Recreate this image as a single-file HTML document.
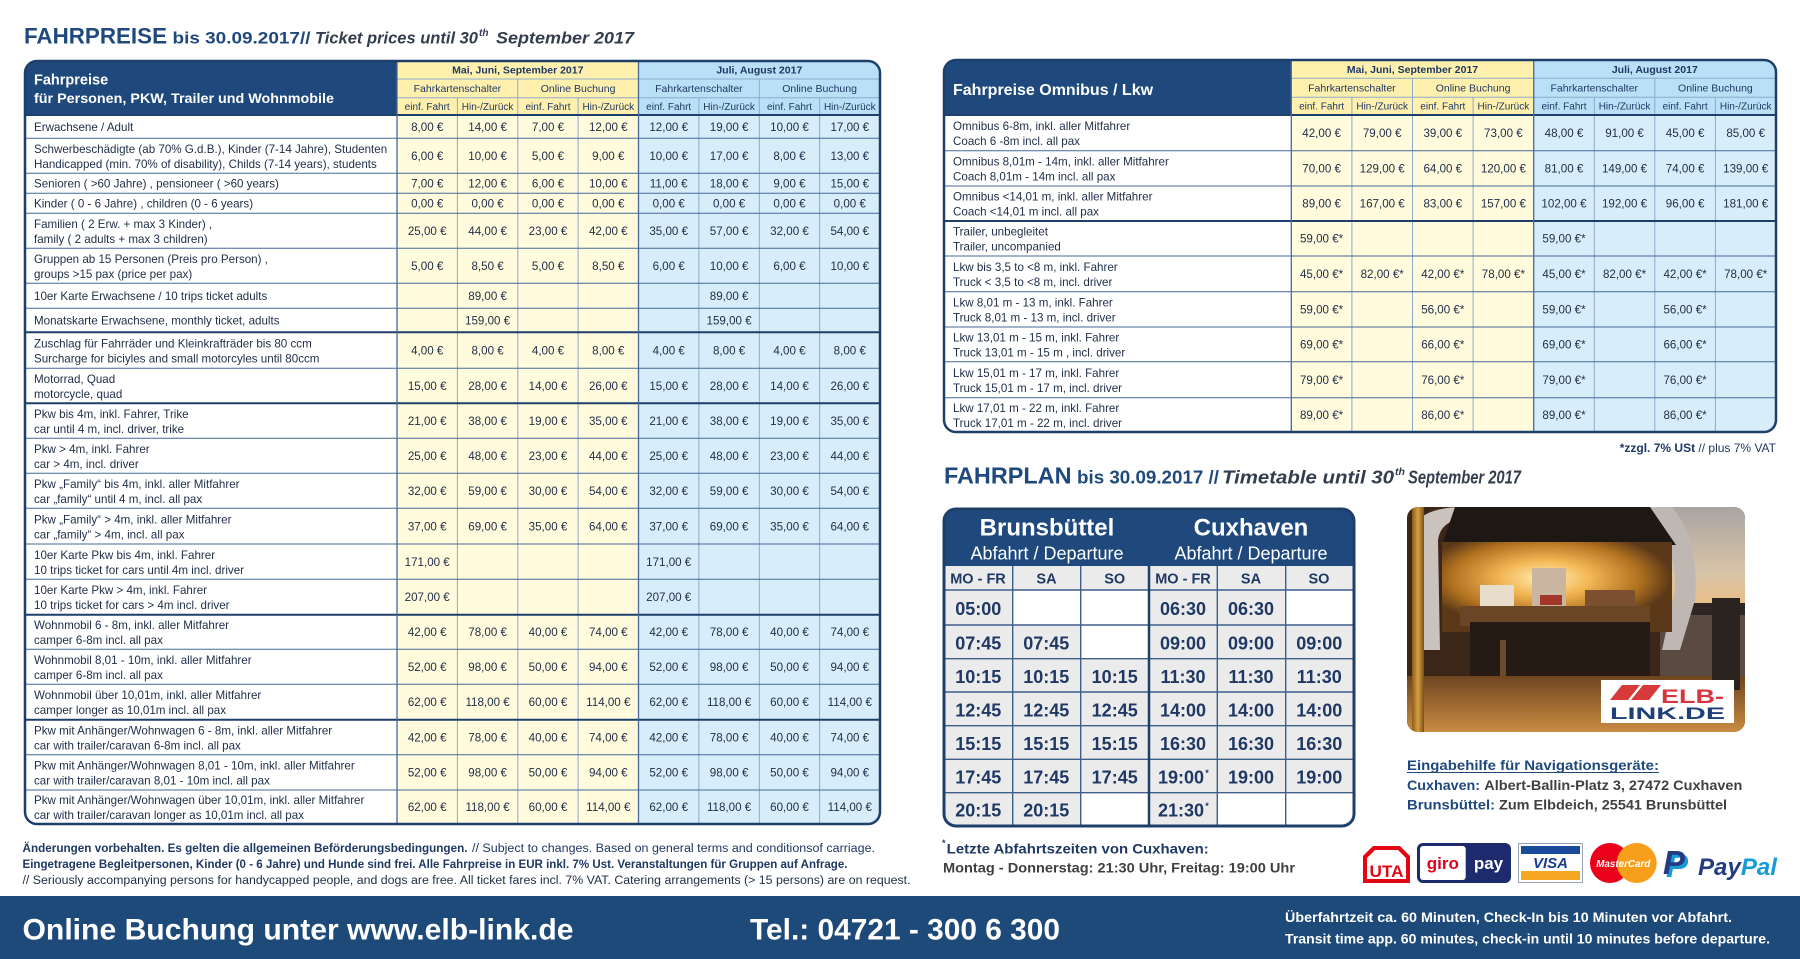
<!DOCTYPE html>
<html><head><meta charset="utf-8"><style>
html,body{margin:0;padding:0;background:#fff;width:1800px;height:959px;overflow:hidden}
svg{display:block;font-family:"Liberation Sans",Arial,sans-serif}
</style></head><body>
<svg width="1800" height="959" viewBox="0 0 1800 959" xmlns="http://www.w3.org/2000/svg">
<defs>
<clipPath id="cL"><rect x="25" y="61" width="855" height="763" rx="12"/></clipPath>
<clipPath id="cR"><rect x="944" y="60" width="832" height="372" rx="12"/></clipPath>
<clipPath id="cT"><rect x="944" y="509" width="410" height="317" rx="12"/></clipPath>
<clipPath id="cph"><rect x="1407" y="507" width="338" height="225" rx="11"/></clipPath>
<linearGradient id="sky" x1="0" y1="0" x2="0" y2="1"><stop offset="0" stop-color="#a9a4a2"/><stop offset="0.6" stop-color="#d9c4a8"/><stop offset="1" stop-color="#eebc7a"/></linearGradient>
<radialGradient id="glow" cx="0.45" cy="0.4" r="0.55"><stop offset="0" stop-color="#fff0b8"/><stop offset="0.35" stop-color="#f3b755"/><stop offset="0.75" stop-color="#b0701f"/><stop offset="1" stop-color="#5a3818"/></radialGradient>
<linearGradient id="dock" x1="0" y1="0" x2="0" y2="1"><stop offset="0" stop-color="#6e4520"/><stop offset="1" stop-color="#c98c42"/></linearGradient>
<linearGradient id="pole" x1="0" y1="0" x2="1" y2="0"><stop offset="0" stop-color="#8a5a1c"/><stop offset="0.5" stop-color="#d6a040"/><stop offset="1" stop-color="#7a4e18"/></linearGradient>
</defs>

<!-- Titles -->
<text x="24" y="43.5" font-size="22" font-weight="bold" fill="#1f497d" textLength="143" lengthAdjust="spacingAndGlyphs">FAHRPREISE</text>
<text x="172.5" y="43.5" font-size="17" font-weight="bold" fill="#1f497d" textLength="138" lengthAdjust="spacingAndGlyphs">bis 30.09.2017//</text>
<text x="315" y="43.5" font-size="17" font-weight="bold" font-style="italic" fill="#333d4d" textLength="163" lengthAdjust="spacingAndGlyphs">Ticket prices until 30</text>
<text x="479" y="36" font-size="10" font-weight="bold" font-style="italic" fill="#333d4d">th</text>
<text x="496" y="43.5" font-size="17" font-weight="bold" font-style="italic" fill="#333d4d" textLength="138" lengthAdjust="spacingAndGlyphs">September 2017</text>

<!-- LEFT TABLE -->
<rect x="25" y="61" width="855" height="763" rx="12" fill="#fff"/>
<g clip-path="url(#cL)">
<rect x="25" y="61" width="372" height="54" fill="#1f497d"/>
<rect x="397" y="61" width="241.5" height="54" fill="#fff1ad"/>
<rect x="638.5" y="61" width="241.5" height="54" fill="#b9e0f7"/>
<rect x="397" y="115" width="241.5" height="709" fill="#fffbdc"/>
<rect x="638.5" y="115" width="241.5" height="709" fill="#d8edfa"/>
</g>
<path d="M397 79H880M397 97.7H880M517.8 79V824M759.3 79V824M457.4 97.7V824M578.1 97.7V824M698.9 97.7V824M819.6 97.7V824" stroke="#8eaacb" stroke-width="1" fill="none"/>
<path d="M25 138.3H880M25 173.3H880M25 193.3H880M25 213.3H880M25 248.3H880M25 283.3H880M25 308.3H880M25 368.3H880M25 438.3H880M25 473.3H880M25 508.3H880M25 544H880M25 579.3H880M25 649.3H880M25 684.3H880M25 754.7H880M25 790H880" stroke="#46699a" stroke-width="1" fill="none"/>
<path d="M25 115H880M25 332.3H880M25 403.3H880M25 614.7H880M25 719.7H880" stroke="#1f3f6b" stroke-width="2" fill="none"/>
<path d="M397 61V824M638.5 61V824" stroke="#46699a" stroke-width="1.3" fill="none"/>
<rect x="25" y="61" width="855" height="763" rx="12" fill="none" stroke="#1f3f6b" stroke-width="2.5"/>

<text x="34" y="84.5" font-size="14.5" font-weight="bold" fill="#fff">Fahrpreise</text>
<text x="34" y="103" font-size="14" font-weight="bold" fill="#fff" textLength="300" lengthAdjust="spacingAndGlyphs">für Personen, PKW, Trailer und Wohnmobile</text>

<g fill="#1f3864" text-anchor="middle">
<text y="73.7" font-size="10.5" font-weight="bold"><tspan x="517.8">Mai, Juni, September 2017</tspan><tspan x="759.3">Juli, August 2017</tspan></text>
<text y="92" font-size="10.5"><tspan x="457.4">Fahrkartenschalter</tspan><tspan x="578.1">Online Buchung</tspan><tspan x="698.9">Fahrkartenschalter</tspan><tspan x="819.6">Online Buchung</tspan></text>
<text y="109.8" font-size="10"><tspan x="427.2">einf. Fahrt</tspan><tspan x="487.6">Hin-/Zurück</tspan><tspan x="548">einf. Fahrt</tspan><tspan x="608.3">Hin-/Zurück</tspan><tspan x="668.7">einf. Fahrt</tspan><tspan x="729.1">Hin-/Zurück</tspan><tspan x="789.5">einf. Fahrt</tspan><tspan x="849.8">Hin-/Zurück</tspan></text>
</g>

<g font-size="11.6" fill="#1f2d47">
<text x="34" y="130.8">Erwachsene / Adult</text>
<text x="34" y="152.9">Schwerbeschädigte (ab 70% G.d.B.), Kinder (7-14 Jahre), Studenten</text>
<text x="34" y="167.9">Handicapped (min. 70% of disability), Childs (7-14 years), students</text>
<text x="34" y="187.4">Senioren ( &gt;60 Jahre) , pensioneer ( &gt;60 years)</text>
<text x="34" y="207.4">Kinder ( 0 - 6 Jahre) , children (0 - 6 years)</text>
<text x="34" y="227.9">Familien ( 2 Erw. + max 3 Kinder) ,</text>
<text x="34" y="242.9">family ( 2 adults + max 3 children)</text>
<text x="34" y="262.9">Gruppen ab 15 Personen (Preis pro Person) ,</text>
<text x="34" y="277.9">groups &gt;15 pax (price per pax)</text>
<text x="34" y="299.9">10er Karte Erwachsene / 10 trips ticket adults</text>
<text x="34" y="324.4">Monatskarte Erwachsene, monthly ticket, adults</text>
<text x="34" y="347.4">Zuschlag für Fahrräder und Kleinkrafträder bis 80 ccm</text>
<text x="34" y="362.4">Surcharge for biciyles and small motorcyles until 80ccm</text>
<text x="34" y="382.9">Motorrad, Quad</text>
<text x="34" y="397.9">motorcycle, quad</text>
<text x="34" y="417.9">Pkw bis 4m, inkl. Fahrer, Trike</text>
<text x="34" y="432.9">car until 4 m, incl. driver, trike</text>
<text x="34" y="452.9">Pkw &gt; 4m, inkl. Fahrer</text>
<text x="34" y="467.9">car &gt; 4m, incl. driver</text>
<text x="34" y="487.9">Pkw „Family“ bis 4m, inkl. aller Mitfahrer</text>
<text x="34" y="502.9">car „family“ until 4 m, incl. all pax</text>
<text x="34" y="523.3">Pkw „Family“ &gt; 4m, inkl. aller Mitfahrer</text>
<text x="34" y="538.3">car „family“ &gt; 4m, incl. all pax</text>
<text x="34" y="558.8">10er Karte Pkw bis 4m, inkl. Fahrer</text>
<text x="34" y="573.8">10 trips ticket for cars until 4m incl. driver</text>
<text x="34" y="594.1">10er Karte Pkw &gt; 4m, inkl. Fahrer</text>
<text x="34" y="609.1">10 trips ticket for cars &gt; 4m incl. driver</text>
<text x="34" y="629.1">Wohnmobil 6 - 8m, inkl. aller Mitfahrer</text>
<text x="34" y="644.1">camper 6-8m incl. all pax</text>
<text x="34" y="663.9">Wohnmobil 8,01 - 10m, inkl. aller Mitfahrer</text>
<text x="34" y="678.9">camper 6-8m incl. all pax</text>
<text x="34" y="699.1">Wohnmobil über 10,01m, inkl. aller Mitfahrer</text>
<text x="34" y="714.1">camper longer as 10,01m incl. all pax</text>
<text x="34" y="734.3">Pkw mit Anhänger/Wohnwagen 6 - 8m, inkl. aller Mitfahrer</text>
<text x="34" y="749.3">car with trailer/caravan 6-8m incl. all pax</text>
<text x="34" y="769.5">Pkw mit Anhänger/Wohnwagen 8,01 - 10m, inkl. aller Mitfahrer</text>
<text x="34" y="784.5">car with trailer/caravan 8,01 - 10m incl. all pax</text>
<text x="34" y="804.1">Pkw mit Anhänger/Wohnwagen über 10,01m, inkl. aller Mitfahrer</text>
<text x="34" y="819.1">car with trailer/caravan longer as 10,01m incl. all pax</text>
</g>

<g font-size="11.6" fill="#1f2d47" text-anchor="middle">
<text y="130.8"><tspan x="427.2">8,00 €</tspan><tspan x="487.6">14,00 €</tspan><tspan x="548">7,00 €</tspan><tspan x="608.3">12,00 €</tspan><tspan x="668.7">12,00 €</tspan><tspan x="729.1">19,00 €</tspan><tspan x="789.5">10,00 €</tspan><tspan x="849.8">17,00 €</tspan></text>
<text y="159.9"><tspan x="427.2">6,00 €</tspan><tspan x="487.6">10,00 €</tspan><tspan x="548">5,00 €</tspan><tspan x="608.3">9,00 €</tspan><tspan x="668.7">10,00 €</tspan><tspan x="729.1">17,00 €</tspan><tspan x="789.5">8,00 €</tspan><tspan x="849.8">13,00 €</tspan></text>
<text y="187.4"><tspan x="427.2">7,00 €</tspan><tspan x="487.6">12,00 €</tspan><tspan x="548">6,00 €</tspan><tspan x="608.3">10,00 €</tspan><tspan x="668.7">11,00 €</tspan><tspan x="729.1">18,00 €</tspan><tspan x="789.5">9,00 €</tspan><tspan x="849.8">15,00 €</tspan></text>
<text y="207.4"><tspan x="427.2">0,00 €</tspan><tspan x="487.6">0,00 €</tspan><tspan x="548">0,00 €</tspan><tspan x="608.3">0,00 €</tspan><tspan x="668.7">0,00 €</tspan><tspan x="729.1">0,00 €</tspan><tspan x="789.5">0,00 €</tspan><tspan x="849.8">0,00 €</tspan></text>
<text y="234.9"><tspan x="427.2">25,00 €</tspan><tspan x="487.6">44,00 €</tspan><tspan x="548">23,00 €</tspan><tspan x="608.3">42,00 €</tspan><tspan x="668.7">35,00 €</tspan><tspan x="729.1">57,00 €</tspan><tspan x="789.5">32,00 €</tspan><tspan x="849.8">54,00 €</tspan></text>
<text y="269.9"><tspan x="427.2">5,00 €</tspan><tspan x="487.6">8,50 €</tspan><tspan x="548">5,00 €</tspan><tspan x="608.3">8,50 €</tspan><tspan x="668.7">6,00 €</tspan><tspan x="729.1">10,00 €</tspan><tspan x="789.5">6,00 €</tspan><tspan x="849.8">10,00 €</tspan></text>
<text y="299.9"><tspan x="487.6">89,00 €</tspan><tspan x="729.1">89,00 €</tspan></text>
<text y="324.4"><tspan x="487.6">159,00 €</tspan><tspan x="729.1">159,00 €</tspan></text>
<text y="354.4"><tspan x="427.2">4,00 €</tspan><tspan x="487.6">8,00 €</tspan><tspan x="548">4,00 €</tspan><tspan x="608.3">8,00 €</tspan><tspan x="668.7">4,00 €</tspan><tspan x="729.1">8,00 €</tspan><tspan x="789.5">4,00 €</tspan><tspan x="849.8">8,00 €</tspan></text>
<text y="389.9"><tspan x="427.2">15,00 €</tspan><tspan x="487.6">28,00 €</tspan><tspan x="548">14,00 €</tspan><tspan x="608.3">26,00 €</tspan><tspan x="668.7">15,00 €</tspan><tspan x="729.1">28,00 €</tspan><tspan x="789.5">14,00 €</tspan><tspan x="849.8">26,00 €</tspan></text>
<text y="424.9"><tspan x="427.2">21,00 €</tspan><tspan x="487.6">38,00 €</tspan><tspan x="548">19,00 €</tspan><tspan x="608.3">35,00 €</tspan><tspan x="668.7">21,00 €</tspan><tspan x="729.1">38,00 €</tspan><tspan x="789.5">19,00 €</tspan><tspan x="849.8">35,00 €</tspan></text>
<text y="459.9"><tspan x="427.2">25,00 €</tspan><tspan x="487.6">48,00 €</tspan><tspan x="548">23,00 €</tspan><tspan x="608.3">44,00 €</tspan><tspan x="668.7">25,00 €</tspan><tspan x="729.1">48,00 €</tspan><tspan x="789.5">23,00 €</tspan><tspan x="849.8">44,00 €</tspan></text>
<text y="494.9"><tspan x="427.2">32,00 €</tspan><tspan x="487.6">59,00 €</tspan><tspan x="548">30,00 €</tspan><tspan x="608.3">54,00 €</tspan><tspan x="668.7">32,00 €</tspan><tspan x="729.1">59,00 €</tspan><tspan x="789.5">30,00 €</tspan><tspan x="849.8">54,00 €</tspan></text>
<text y="530.3"><tspan x="427.2">37,00 €</tspan><tspan x="487.6">69,00 €</tspan><tspan x="548">35,00 €</tspan><tspan x="608.3">64,00 €</tspan><tspan x="668.7">37,00 €</tspan><tspan x="729.1">69,00 €</tspan><tspan x="789.5">35,00 €</tspan><tspan x="849.8">64,00 €</tspan></text>
<text y="565.8"><tspan x="427.2">171,00 €</tspan><tspan x="668.7">171,00 €</tspan></text>
<text y="601.1"><tspan x="427.2">207,00 €</tspan><tspan x="668.7">207,00 €</tspan></text>
<text y="636.1"><tspan x="427.2">42,00 €</tspan><tspan x="487.6">78,00 €</tspan><tspan x="548">40,00 €</tspan><tspan x="608.3">74,00 €</tspan><tspan x="668.7">42,00 €</tspan><tspan x="729.1">78,00 €</tspan><tspan x="789.5">40,00 €</tspan><tspan x="849.8">74,00 €</tspan></text>
<text y="670.9"><tspan x="427.2">52,00 €</tspan><tspan x="487.6">98,00 €</tspan><tspan x="548">50,00 €</tspan><tspan x="608.3">94,00 €</tspan><tspan x="668.7">52,00 €</tspan><tspan x="729.1">98,00 €</tspan><tspan x="789.5">50,00 €</tspan><tspan x="849.8">94,00 €</tspan></text>
<text y="706.1"><tspan x="427.2">62,00 €</tspan><tspan x="487.6">118,00 €</tspan><tspan x="548">60,00 €</tspan><tspan x="608.3">114,00 €</tspan><tspan x="668.7">62,00 €</tspan><tspan x="729.1">118,00 €</tspan><tspan x="789.5">60,00 €</tspan><tspan x="849.8">114,00 €</tspan></text>
<text y="741.3"><tspan x="427.2">42,00 €</tspan><tspan x="487.6">78,00 €</tspan><tspan x="548">40,00 €</tspan><tspan x="608.3">74,00 €</tspan><tspan x="668.7">42,00 €</tspan><tspan x="729.1">78,00 €</tspan><tspan x="789.5">40,00 €</tspan><tspan x="849.8">74,00 €</tspan></text>
<text y="776.5"><tspan x="427.2">52,00 €</tspan><tspan x="487.6">98,00 €</tspan><tspan x="548">50,00 €</tspan><tspan x="608.3">94,00 €</tspan><tspan x="668.7">52,00 €</tspan><tspan x="729.1">98,00 €</tspan><tspan x="789.5">50,00 €</tspan><tspan x="849.8">94,00 €</tspan></text>
<text y="811.1"><tspan x="427.2">62,00 €</tspan><tspan x="487.6">118,00 €</tspan><tspan x="548">60,00 €</tspan><tspan x="608.3">114,00 €</tspan><tspan x="668.7">62,00 €</tspan><tspan x="729.1">118,00 €</tspan><tspan x="789.5">60,00 €</tspan><tspan x="849.8">114,00 €</tspan></text>
</g>

<!-- RIGHT TABLE -->
<rect x="944" y="60" width="832" height="372" rx="12" fill="#fff"/>
<g clip-path="url(#cR)">
<rect x="944" y="60" width="347.3" height="55" fill="#1f497d"/>
<rect x="1291.3" y="60" width="242.4" height="55" fill="#fff1ad"/>
<rect x="1533.7" y="60" width="242.3" height="55" fill="#b9e0f7"/>
<rect x="1291.3" y="115" width="242.4" height="317" fill="#fffbdc"/>
<rect x="1533.7" y="115" width="242.3" height="317" fill="#d8edfa"/>
</g>
<path d="M1291.3 78.3H1776M1291.3 97.3H1776M1412.5 78.3V432M1654.8 78.3V432M1351.9 97.3V432M1473.1 97.3V432M1594.3 97.3V432M1715.4 97.3V432" stroke="#8eaacb" stroke-width="1" fill="none"/>
<path d="M944 150.7H1776M944 186H1776M944 256H1776M944 291.7H1776M944 327H1776M944 361.7H1776M944 397.7H1776" stroke="#46699a" stroke-width="1" fill="none"/>
<path d="M944 115H1776M944 221H1776" stroke="#1f3f6b" stroke-width="2" fill="none"/>
<path d="M1291.3 60V432M1533.7 60V432" stroke="#46699a" stroke-width="1.3" fill="none"/>
<rect x="944" y="60" width="832" height="372" rx="12" fill="none" stroke="#1f3f6b" stroke-width="2.5"/>

<text x="953" y="95" font-size="16" font-weight="bold" fill="#fff">Fahrpreise Omnibus / Lkw</text>
<g fill="#1f3864" text-anchor="middle">
<text y="72.9" font-size="10.5" font-weight="bold"><tspan x="1412.5">Mai, Juni, September 2017</tspan><tspan x="1654.8">Juli, August 2017</tspan></text>
<text y="91.5" font-size="10.5"><tspan x="1351.9">Fahrkartenschalter</tspan><tspan x="1473.1">Online Buchung</tspan><tspan x="1594.3">Fahrkartenschalter</tspan><tspan x="1715.4">Online Buchung</tspan></text>
<text y="109.7" font-size="10"><tspan x="1321.6">einf. Fahrt</tspan><tspan x="1382.2">Hin-/Zurück</tspan><tspan x="1442.8">einf. Fahrt</tspan><tspan x="1503.4">Hin-/Zurück</tspan><tspan x="1564">einf. Fahrt</tspan><tspan x="1624.55">Hin-/Zurück</tspan><tspan x="1685.1">einf. Fahrt</tspan><tspan x="1745.7">Hin-/Zurück</tspan></text>
</g>

<g font-size="11.6" fill="#1f2d47">
<text x="953" y="130">Omnibus 6-8m, inkl. aller Mitfahrer</text>
<text x="953" y="145">Coach 6 -8m incl. all pax</text>
<text x="953" y="165.5">Omnibus 8,01m - 14m, inkl. aller Mitfahrer</text>
<text x="953" y="180.5">Coach 8,01m - 14m incl. all pax</text>
<text x="953" y="200.6">Omnibus &lt;14,01 m, inkl. aller Mitfahrer</text>
<text x="953" y="215.6">Coach &lt;14,01 m incl. all pax</text>
<text x="953" y="235.6">Trailer, unbegleitet</text>
<text x="953" y="250.6">Trailer, uncompanied</text>
<text x="953" y="271">Lkw bis 3,5 to &lt;8 m, inkl. Fahrer</text>
<text x="953" y="286">Truck &lt; 3,5 to &lt;8 m, incl. driver</text>
<text x="953" y="306.5">Lkw  8,01 m - 13 m, inkl. Fahrer</text>
<text x="953" y="321.5">Truck 8,01 m - 13 m, incl. driver</text>
<text x="953" y="341.5">Lkw 13,01 m - 15 m, inkl. Fahrer</text>
<text x="953" y="356.5">Truck 13,01 m - 15 m , incl. driver</text>
<text x="953" y="376.8">Lkw 15,01 m - 17 m, inkl. Fahrer</text>
<text x="953" y="391.8">Truck 15,01 m - 17 m, incl. driver</text>
<text x="953" y="412">Lkw 17,01 m - 22 m, inkl. Fahrer</text>
<text x="953" y="427">Truck 17,01 m - 22 m, incl. driver</text>
</g>
<g font-size="11.6" fill="#1f2d47" text-anchor="middle">
<text y="137"><tspan x="1321.6">42,00 €</tspan><tspan x="1382.2">79,00 €</tspan><tspan x="1442.8">39,00 €</tspan><tspan x="1503.4">73,00 €</tspan><tspan x="1564">48,00 €</tspan><tspan x="1624.55">91,00 €</tspan><tspan x="1685.1">45,00 €</tspan><tspan x="1745.7">85,00 €</tspan></text>
<text y="172.5"><tspan x="1321.6">70,00 €</tspan><tspan x="1382.2">129,00 €</tspan><tspan x="1442.8">64,00 €</tspan><tspan x="1503.4">120,00 €</tspan><tspan x="1564">81,00 €</tspan><tspan x="1624.55">149,00 €</tspan><tspan x="1685.1">74,00 €</tspan><tspan x="1745.7">139,00 €</tspan></text>
<text y="207.6"><tspan x="1321.6">89,00 €</tspan><tspan x="1382.2">167,00 €</tspan><tspan x="1442.8">83,00 €</tspan><tspan x="1503.4">157,00 €</tspan><tspan x="1564">102,00 €</tspan><tspan x="1624.55">192,00 €</tspan><tspan x="1685.1">96,00 €</tspan><tspan x="1745.7">181,00 €</tspan></text>
<text y="242.6"><tspan x="1321.6">59,00 €*</tspan><tspan x="1564">59,00 €*</tspan></text>
<text y="278"><tspan x="1321.6">45,00 €*</tspan><tspan x="1382.2">82,00 €*</tspan><tspan x="1442.8">42,00 €*</tspan><tspan x="1503.4">78,00 €*</tspan><tspan x="1564">45,00 €*</tspan><tspan x="1624.55">82,00 €*</tspan><tspan x="1685.1">42,00 €*</tspan><tspan x="1745.7">78,00 €*</tspan></text>
<text y="313.5"><tspan x="1321.6">59,00 €*</tspan><tspan x="1442.8">56,00 €*</tspan><tspan x="1564">59,00 €*</tspan><tspan x="1685.1">56,00 €*</tspan></text>
<text y="348.5"><tspan x="1321.6">69,00 €*</tspan><tspan x="1442.8">66,00 €*</tspan><tspan x="1564">69,00 €*</tspan><tspan x="1685.1">66,00 €*</tspan></text>
<text y="383.8"><tspan x="1321.6">79,00 €*</tspan><tspan x="1442.8">76,00 €*</tspan><tspan x="1564">79,00 €*</tspan><tspan x="1685.1">76,00 €*</tspan></text>
<text y="419"><tspan x="1321.6">89,00 €*</tspan><tspan x="1442.8">86,00 €*</tspan><tspan x="1564">89,00 €*</tspan><tspan x="1685.1">86,00 €*</tspan></text>
</g>

<text x="1776" y="452" font-size="12" fill="#1f3864" text-anchor="end"><tspan font-weight="bold">*zzgl. 7% USt</tspan> // plus 7% VAT</text>

<!-- FAHRPLAN title -->
<text x="944" y="483.3" font-size="23" font-weight="bold" fill="#1f497d" textLength="127.5" lengthAdjust="spacingAndGlyphs">FAHRPLAN</text>
<text x="1077" y="483.3" font-size="18" font-weight="bold" fill="#1f497d" textLength="142" lengthAdjust="spacingAndGlyphs">bis 30.09.2017 //</text>
<text x="1222" y="483.3" font-size="18" font-weight="bold" font-style="italic" fill="#333d4d" textLength="172" lengthAdjust="spacingAndGlyphs">Timetable until 30</text>
<text x="1395" y="475" font-size="10.5" font-weight="bold" font-style="italic" fill="#333d4d">th</text>
<text x="1408" y="483.3" font-size="18" font-weight="bold" font-style="italic" fill="#333d4d" textLength="113" lengthAdjust="spacingAndGlyphs">September 2017</text>

<!-- TIMETABLE -->
<g clip-path="url(#cT)">
<rect x="944" y="509" width="410" height="317" fill="#ebebeb"/>
<rect x="944" y="509" width="410" height="57" fill="#1f497d"/>
<rect x="1012.7" y="590" width="68" height="35" fill="#fff"/>
<rect x="1080.7" y="590" width="68.3" height="68.7" fill="#fff"/>
<rect x="1080.7" y="792.7" width="68.3" height="34" fill="#fff"/>
<rect x="1285.7" y="590" width="68.3" height="35" fill="#fff"/>
<rect x="1217.3" y="792.7" width="136.7" height="34" fill="#fff"/>
</g>
<path d="M944 590H1354M944 625H1354M944 658.7H1354M944 692H1354M944 725.7H1354M944 759.3H1354M944 792.7H1354M1012.7 566V826M1080.7 566V826M1217.3 566V826M1285.7 566V826" stroke="#3d5f8c" stroke-width="1.4" fill="none"/>
<path d="M1149 566V826" stroke="#1f3f6b" stroke-width="2.5"/>
<rect x="944" y="509" width="410" height="317" rx="12" fill="none" stroke="#1f3f6b" stroke-width="3"/>

<g text-anchor="middle" fill="#fff">
<text x="1047" y="535.7" font-size="24" font-weight="bold">Brunsbüttel</text>
<text x="1251" y="535.7" font-size="24" font-weight="bold">Cuxhaven</text>
<text x="1047" y="559.5" font-size="18">Abfahrt / Departure</text>
<text x="1251" y="559.5" font-size="18">Abfahrt / Departure</text>
</g>
<g text-anchor="middle" fill="#1f3864" font-weight="bold">
<text y="583.3" font-size="14.5"><tspan x="978">MO - FR</tspan><tspan x="1046.5">SA</tspan><tspan x="1114.7">SO</tspan><tspan x="1183">MO - FR</tspan><tspan x="1251">SA</tspan><tspan x="1319">SO</tspan></text>
<g font-size="18">
<text y="614.9"><tspan x="978.3">05:00</tspan><tspan x="1183">06:30</tspan><tspan x="1251">06:30</tspan></text>
<text y="649.3"><tspan x="978.3">07:45</tspan><tspan x="1046.3">07:45</tspan><tspan x="1183">09:00</tspan><tspan x="1251">09:00</tspan><tspan x="1319.3">09:00</tspan></text>
<text y="682.8"><tspan x="978.3">10:15</tspan><tspan x="1046.3">10:15</tspan><tspan x="1114.7">10:15</tspan><tspan x="1183">11:30</tspan><tspan x="1251">11:30</tspan><tspan x="1319.3">11:30</tspan></text>
<text y="716.3"><tspan x="978.3">12:45</tspan><tspan x="1046.3">12:45</tspan><tspan x="1114.7">12:45</tspan><tspan x="1183">14:00</tspan><tspan x="1251">14:00</tspan><tspan x="1319.3">14:00</tspan></text>
<text y="749.9"><tspan x="978.3">15:15</tspan><tspan x="1046.3">15:15</tspan><tspan x="1114.7">15:15</tspan><tspan x="1183">16:30</tspan><tspan x="1251">16:30</tspan><tspan x="1319.3">16:30</tspan></text>
<text y="783.4"><tspan x="978.3">17:45</tspan><tspan x="1046.3">17:45</tspan><tspan x="1114.7">17:45</tspan><tspan x="1181">19:00</tspan><tspan x="1251">19:00</tspan><tspan x="1319.3">19:00</tspan></text>
<text y="816.4"><tspan x="978.3">20:15</tspan><tspan x="1046.3">20:15</tspan><tspan x="1181">21:30</tspan></text>
</g>
<text x="1207" y="776" font-size="9">*</text>
<text x="1207" y="809" font-size="9">*</text>
</g>

<text x="942" y="846" font-size="9" font-weight="bold" fill="#1f3864">*</text>
<text x="946.7" y="853.3" font-size="14" font-weight="bold" fill="#1f3864" textLength="262" lengthAdjust="spacingAndGlyphs">Letzte Abfahrtszeiten von Cuxhaven:</text>
<text x="943" y="872.7" font-size="14" font-weight="bold" fill="#404040" textLength="352" lengthAdjust="spacingAndGlyphs">Montag - Donnerstag: 21:30 Uhr, Freitag: 19:00 Uhr</text>

<!-- PHOTO -->
<g clip-path="url(#cph)">
<rect x="1407" y="507" width="338" height="225" fill="#3b2618"/>
<rect x="1660" y="507" width="85" height="110" fill="url(#sky)"/>
<rect x="1660" y="603" width="85" height="12" fill="#2e2622"/>
<rect x="1660" y="615" width="85" height="70" fill="#5a4a42"/>
<path d="M1418 520 Q1430 508 1460 507 L1455 520 Q1440 525 1438 540 L1440 650 L1422 650 Z" fill="#c9c2bd"/>
<path d="M1640 507 L1672 507 Q1700 540 1695 600 L1680 650 L1662 650 L1675 590 Q1678 540 1640 515 Z" fill="#bfb7b1"/>
<path d="M1455 507 L1650 507 L1676 545 L1442 545 Z" fill="#1e1814"/>
<rect x="1442" y="542" width="230" height="90" fill="url(#glow)"/>
<rect x="1480" y="585" width="34" height="26" fill="#e8dccb"/>
<rect x="1532" y="568" width="34" height="42" fill="#c9b5a0"/>
<rect x="1540" y="595" width="22" height="10" fill="#a3362a"/>
<rect x="1585" y="590" width="50" height="22" fill="#7a5030"/>
<rect x="1460" y="606" width="190" height="20" fill="#6a4526"/>
<rect x="1470" y="622" width="180" height="58" fill="#261b14"/>
<rect x="1500" y="640" width="6" height="40" fill="#6a4a2a"/>
<rect x="1407" y="676" width="338" height="56" fill="url(#dock)"/>
<rect x="1412" y="507" width="12" height="225" fill="url(#pole)"/>
<rect x="1712" y="598" width="28" height="92" fill="#2a231f"/>
</g>
<rect x="1601" y="680" width="133" height="43" fill="#fff"/>
<polygon points="1622,685 1640,685 1628,700 1610,700" fill="#d63a3a"/>
<polygon points="1643,685 1661,685 1649,700 1631,700" fill="#d63a3a"/>
<text x="1661" y="703" font-size="19" font-weight="bold" fill="#d9333b" textLength="63" lengthAdjust="spacingAndGlyphs">ELB-</text>
<text x="1610" y="719" font-size="17" font-weight="bold" fill="#1f3f78" textLength="115" lengthAdjust="spacingAndGlyphs">LINK.DE</text>

<!-- Navigation text -->
<text x="1407" y="770" font-size="14" font-weight="bold" fill="#1f497d" textLength="252" lengthAdjust="spacingAndGlyphs">Eingabehilfe für Navigationsgeräte:</text>
<line x1="1407" y1="772.5" x2="1659" y2="772.5" stroke="#1f497d" stroke-width="1"/>
<text x="1407" y="790" font-size="14" font-weight="bold" fill="#1f497d" textLength="73" lengthAdjust="spacingAndGlyphs">Cuxhaven:</text>
<text x="1484.3" y="790" font-size="14" font-weight="bold" fill="#404040" textLength="258" lengthAdjust="spacingAndGlyphs">Albert-Ballin-Platz 3, 27472 Cuxhaven</text>
<text x="1407" y="809.5" font-size="14" font-weight="bold" fill="#1f497d" textLength="88" lengthAdjust="spacingAndGlyphs">Brunsbüttel:</text>
<text x="1499" y="809.5" font-size="14" font-weight="bold" fill="#404040" textLength="228" lengthAdjust="spacingAndGlyphs">Zum Elbdeich, 25541 Brunsbüttel</text>

<!-- LOGOS -->
<path d="M1363 856 L1373 846 L1400 846 L1410 856 L1410 883 L1363 883 Z" fill="#e30613"/>
<path d="M1367 858 L1375 850 L1398 850 L1406 858 L1406 879 L1367 879 Z" fill="#fff"/>
<text x="1386.5" y="877" font-size="17" font-weight="bold" fill="#e30613" text-anchor="middle" textLength="34" lengthAdjust="spacingAndGlyphs">UTA</text>
<rect x="1417" y="843" width="94" height="40" rx="6" fill="#1d2a6e"/>
<rect x="1420" y="846" width="45.7" height="34" rx="3" fill="#fff"/>
<text x="1442.8" y="869" font-size="17" font-weight="bold" fill="#e2001a" text-anchor="middle">giro</text>
<text x="1488.5" y="869" font-size="17" font-weight="bold" fill="#fff" text-anchor="middle">pay</text>
<rect x="1518.5" y="843.5" width="64" height="39" fill="#fff" stroke="#9aa3b5" stroke-width="1"/>
<rect x="1521" y="846" width="59" height="8" fill="#1a4a9c"/>
<rect x="1521" y="871" width="59" height="9" fill="#f5a623"/>
<text x="1550.5" y="868" font-size="15" font-weight="bold" font-style="italic" fill="#1a3d8f" text-anchor="middle">VISA</text>
<circle cx="1610" cy="863" r="20" fill="#eb001b"/>
<circle cx="1636.7" cy="863" r="20" fill="#f79e1b"/>
<text x="1623.3" y="867" font-size="10.5" font-weight="bold" font-style="italic" fill="#fff" text-anchor="middle" textLength="54" lengthAdjust="spacingAndGlyphs">MasterCard</text>
<text x="1666" y="877" font-size="33" font-weight="bold" font-style="italic" fill="#179bd7">P</text>
<text x="1663" y="874" font-size="33" font-weight="bold" font-style="italic" fill="#253b80">P</text>
<text x="1698" y="875" font-size="24" font-weight="bold" font-style="italic" textLength="79" lengthAdjust="spacingAndGlyphs"><tspan fill="#253b80">Pay</tspan><tspan fill="#179bd7">Pal</tspan></text>

<!-- NOTES -->
<text x="22.5" y="852" font-size="11.5" font-weight="bold" fill="#1f3864" textLength="445" lengthAdjust="spacingAndGlyphs">Änderungen vorbehalten. Es gelten die allgemeinen Beförderungsbedingungen.</text>
<text x="472" y="852" font-size="11.5" fill="#1f3864" textLength="403" lengthAdjust="spacingAndGlyphs">// Subject to changes. Based on general terms and conditionsof carriage.</text>
<text x="22.5" y="868" font-size="11.5" font-weight="bold" fill="#1f3864" textLength="825" lengthAdjust="spacingAndGlyphs">Eingetragene Begleitpersonen, Kinder (0 - 6 Jahre) und Hunde sind frei. Alle Fahrpreise in EUR inkl. 7% Ust. Veranstaltungen für Gruppen auf Anfrage.</text>
<text x="22.5" y="884" font-size="11.5" fill="#1f2d47" textLength="888" lengthAdjust="spacingAndGlyphs">// Seriously accompanying persons for handycapped people, and dogs are free. All ticket fares incl. 7% VAT. Catering arrangements (&gt; 15 persons) are on request.</text>

<!-- FOOTER -->
<rect x="0" y="896" width="1800" height="63" fill="#1e4a7a"/>
<text x="22.5" y="939.3" font-size="30" font-weight="bold" fill="#fff" textLength="551" lengthAdjust="spacingAndGlyphs">Online Buchung unter www.elb-link.de</text>
<text x="750" y="939.3" font-size="30" font-weight="bold" fill="#fff" textLength="310" lengthAdjust="spacingAndGlyphs">Tel.: 04721 - 300 6 300</text>
<text x="1285" y="922" font-size="14" font-weight="bold" fill="#fff" textLength="447" lengthAdjust="spacingAndGlyphs">Überfahrtzeit ca. 60 Minuten, Check-In bis 10 Minuten vor Abfahrt.</text>
<text x="1285" y="943.5" font-size="14" font-weight="bold" fill="#fff" textLength="485" lengthAdjust="spacingAndGlyphs">Transit time app. 60 minutes, check-in until 10 minutes before departure.</text>
</svg>
</body></html>
